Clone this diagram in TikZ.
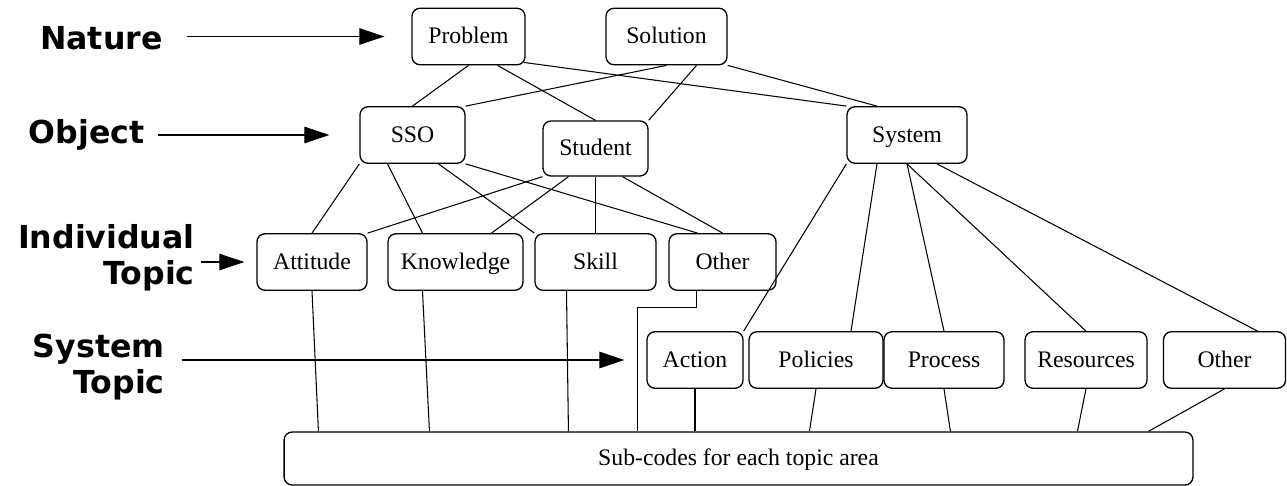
\documentclass[tikz,border=0pt]{standalone}
\usepackage{fontspec}
\setmainfont{Liberation Serif}
\newfontfamily\levelfont{DejaVu Sans}
\usetikzlibrary{arrows.meta,calc}

\begin{document}
\begin{tikzpicture}[x=0.02cm,y=-0.02cm,
    box/.style={draw, line width=0.75pt, rounded corners=0.16cm, minimum height=1.13cm,
        inner sep=0pt, text height=0.95em, text depth=0.15em, font=\fontsize{13.5}{16}\selectfont},
    level/.style={anchor=east, align=right, inner sep=0pt,
        font=\levelfont\bfseries\fontsize{18}{20.5}\selectfont},
    levelarrow/.style={line width=0.6pt, -{Triangle[length=0.5cm,width=0.33cm]}},
    link/.style={line width=0.6pt}]
    \useasboundingbox (0,0) rectangle (1287,486);

    % nature and object
    \node[box, minimum width=2.26cm] (prob) at (468.5,36.5) {Problem};
    \node[box, minimum width=2.42cm] (sol) at (666.5,36.5) {Solution};
    \node[box, minimum width=2.1cm] (sso) at (412.5,135) {SSO};
    \node[box, minimum width=2.1cm, minimum height=1.1cm] (stu) at (595.5,148.5) {Student};
    \node[box, minimum width=2.4cm] (sys) at (907,135) {System};

    % individual topics
    \node[box, minimum width=2.2cm] (att) at (312,262) {Attitude};
    \node[box, minimum width=2.7cm] (know) at (455.5,262) {Knowledge};
    \node[box, minimum width=2.42cm] (skill) at (595.5,262) {Skill};
    \node[box, minimum width=2.14cm] (oth) at (722.5,262) {Other};

    % system topics
    \node[box, minimum width=1.92cm] (act) at (695,360) {Action};
    \node[box, minimum width=2.68cm] (pol) at (816,360) {Policies};
    \node[box, minimum width=2.4cm] (proc) at (944,360) {Process};
    \node[box, minimum width=2.44cm] (res) at (1086,360) {Resources};
    \node[box, minimum width=2.44cm] (othsys) at (1224.5,360) {Other};

    \node[box, minimum width=18.18cm, minimum height=1.06cm] (sub) at (738.5,458.5) {Sub-codes for each topic area};

    % level names
    \node[level] (nat) at (163,38) {Nature};
    \node[level] (obj) at (145,135) {Object};
    \node[level] (ind) at (195,258) {Individual\\Topic};
    \node[level] (systop) at (165,367) {System\\Topic};

    \draw[levelarrow, shorten <=0.48cm, shorten >=0.54cm] (nat.east |- prob.west) -- (prob.west);
    \draw[levelarrow, shorten <=0.26cm, shorten >=0.6cm] (obj.east |- sso.west) -- (sso.west);
    \draw[levelarrow, shorten <=0.12cm, shorten >=0.24cm] (ind.east |- att.west) -- (att.west);
    \draw[levelarrow, shorten <=0.34cm, shorten >=0.44cm] (systop.east |- act.west) -- (act.west);

    % nature to object
    \draw[link] (prob.south) -- (sso.north);
    \draw[link] ($(prob.south)+(29,0)$) -- (stu.north);
    \draw[link] ($(prob.south east)+(-2,-3)$) -- (sys.north west);
    \draw[link] (sol.south) -- (sso.north east);
    \draw[link] ($(sol.south)+(30,0)$) -- (stu.north east);
    \draw[link] (sol.south east) -- ($(sys.north)+(-30,0)$);

    % object to topic
    \draw[link] (sso.south west) -- (att.north);
    \draw[link] ($(sso.south)+(-25,0)$) -- ($(know.north)+(-33,0)$);
    \draw[link] ($(sso.south)+(26,0)$) -- (skill.north west);
    \draw[link] (sso.south east) -- ($(oth.north)+(-25,0)$);
    \draw[link] (stu.south west) -- (att.north east);
    \draw[link] ($(stu.south)+(-27,0)$) -- ($(know.north)+(36,0)$);
    \draw[link] (stu.south) -- (skill.north);
    \draw[link] ($(stu.south)+(27,0)$) -- (oth.north);
    \draw[link] (sys.south west) -- (act.north east);
    \draw[link] ($(sys.south)+(-30,0)$) -- ($(pol.north)+(35,0)$);
    \draw[link] (sys.south) -- (proc.north);
    \draw[link] (sys.south) -- (res.north);
    \draw[link] ($(sys.south)+(30,0)$) -- ($(othsys.north)+(33,0)$);

    % topic to sub-codes
    \draw[link] (att.south) -- ($(sub.north west)+(35,0)$);
    \draw[link] ($(know.south)+(-33,0)$) -- ($(sub.north west)+(146,0)$);
    \draw[link] ($(skill.south)+(-29,0)$) -- ($(sub.north west)+(285,0)$);
    \draw[link] ($(oth.south)+(-26,0)$) -- ++(0,17) -| ($(sub.north west)+(354,0)$);
    \draw[link] (act.south) -- (act.south |- sub.north);
    \draw[link] (pol.south) -- ($(sub.north west)+(526,0)$);
    \draw[link] (proc.south) -- ($(sub.north west)+(667,0)$);
    \draw[link] (res.south) -- ($(sub.north west)+(794,0)$);
    \draw[link] (othsys.south) -- ($(sub.north west)+(865,0)$);
\end{tikzpicture}
\end{document}
